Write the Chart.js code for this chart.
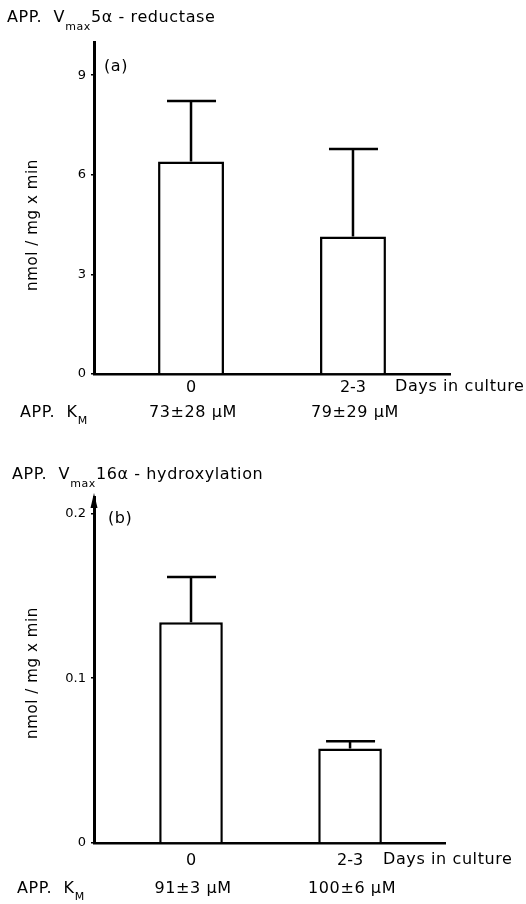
<!DOCTYPE html>
<html>
<head>
<meta charset="utf-8">
<script src="https://cdn.jsdelivr.net/npm/chart.js@4.4.1/dist/chart.umd.min.js"></script>
<style>
  html, body { margin: 0; padding: 0; background: #fff; }
  canvas { display: block; }
</style>
</head>
<body>
<canvas id="chartA" width="526" height="450"></canvas>
<canvas id="chartB" width="526" height="454"></canvas>
<script>
// ---- data ----
const categories = ['0', '2-3'];
const reductaseValues = [6.4, 4.14];
const reductaseErrors = [1.82, 2.64];
const reductaseKm = ['73\u00B128 \u03BCM', '79\u00B129 \u03BCM'];
const reductaseTicks = [0, 3, 6, 9];

const hydroxValues = [0.134, 0.0573];
const hydroxErrors = [0.0275, 0.0044];
const hydroxKm = ['91\u00B13 \u03BCM', '100\u00B16 \u03BCM'];
const hydroxTicks = [0, 0.1, 0.2];
const hydroxTickLabels = ['0', '0.1', '0.2'];

const FONT = '"DejaVu Sans", sans-serif';

function drawSubText(ctx, x, y, parts) {
  let cx = x;
  parts.forEach(p => {
    ctx.font = p.size + 'px ' + FONT;
    ctx.fillText(p.t, cx, y + (p.dy || 0));
    cx += ctx.measureText(p.t).width + (p.gap || 0);
  });
}

function makeChart(id, cfg) {
  const annot = {
    id: 'annot',
    afterDraw(chart) {
      const ctx = chart.ctx;
      const xs = chart.scales.x, ys = chart.scales.y;
      const ca = chart.chartArea;
      ctx.save();
      ctx.fillStyle = '#000';
      ctx.strokeStyle = '#000';
      // error bars
      ctx.lineWidth = 2.5;
      cfg.values.forEach((v, i) => {
        const px = xs.getPixelForValue(i + 1);
        const y0 = ys.getPixelForValue(v);
        const y1 = ys.getPixelForValue(v + cfg.errors[i]);
        ctx.beginPath();
        ctx.moveTo(px, y0);
        ctx.lineTo(px, y1);
        ctx.moveTo(px - 24, y1);
        ctx.lineTo(px + 25, y1);
        ctx.stroke();
      });
      // arrow on y axis
      if (cfg.arrow) {
        ctx.beginPath();
        ctx.moveTo(ca.left, ca.top - 4);
        ctx.lineTo(ca.left - 3.5, ca.top + 11);
        ctx.lineTo(ca.left + 3.5, ca.top + 11);
        ctx.closePath();
        ctx.fill();
      }
      ctx.textBaseline = 'middle';
      ctx.textAlign = 'left';
      try { ctx.letterSpacing = '0.6px'; } catch (e) {}
      // title with subscript
      drawSubText(ctx, cfg.titleX, cfg.titleY, [
        {t: 'APP.  V', size: 16},
        {t: 'max', size: 11, dy: 9},
        {t: cfg.titleRest, size: 16}
      ]);
      // panel label
      ctx.font = '16px ' + FONT;
      ctx.fillText(cfg.panel, cfg.panelX, cfg.panelY);
      // days in culture
      ctx.fillText('Days in culture', cfg.daysX, ca.bottom + cfg.tickDy);
      // Km row
      drawSubText(ctx, cfg.kmX, ca.bottom + cfg.kmDy, [
        {t: 'APP.  K', size: 16},
        {t: 'M', size: 11, dy: 8}
      ]);
      ctx.font = '16px ' + FONT;
      ctx.textAlign = 'center';
      cfg.km.forEach((k, i) => {
        ctx.fillText(k, xs.getPixelForValue(i + 1) + 2, ca.bottom + cfg.kmDy);
      });
      // y axis title
      ctx.save();
      ctx.translate(33, cfg.yTitleY);
      ctx.rotate(-Math.PI / 2);
      ctx.font = '15px ' + FONT;
      ctx.fillText('nmol / mg x min', 0, 0);
      ctx.restore();
      ctx.restore();
    }
  };

  return new Chart(document.getElementById(id), {
    type: 'bar',
    data: {
      datasets: [{
        data: cfg.values.map((v, i) => ({x: i + 1, y: v})),
        backgroundColor: '#fff',
        borderColor: '#000',
        borderWidth: 2.5,
        barPercentage: cfg.barPct,
        categoryPercentage: 1
      }]
    },
    options: {
      responsive: false,
      animation: false,
      devicePixelRatio: 1,
      layout: { padding: { left: 0, top: cfg.padTop, right: cfg.padRight, bottom: 0 } },
      plugins: { legend: { display: false }, tooltip: { enabled: false }, title: { display: false } },
      scales: {
        x: {
          type: 'linear',
          offset: false,
          min: cfg.xMin,
          max: cfg.xMax,
          afterBuildTicks: s => { s.ticks = categories.map((c, i) => ({value: i + 1})); },
          afterFit: s => { s.height = cfg.xHeight; },
          ticks: {
            callback: (v) => categories[Math.round(v) - 1],
            color: '#000',
            font: { family: FONT, size: 16 },
            padding: cfg.xTickPad,
            maxRotation: 0,
            autoSkip: false
          },
          grid: { display: false, drawTicks: false, offset: false },
          border: { display: true, color: '#000', width: 2.5 }
        },
        y: {
          min: 0,
          max: cfg.yMax,
          afterBuildTicks: s => { s.ticks = cfg.yTicks.map(v => ({value: v})); },
          afterFit: s => { s.width = 94; },
          ticks: {
            callback: (v, i) => cfg.yTickLabels ? cfg.yTickLabels[i] : String(v),
            color: '#000',
            font: { family: FONT, size: 13 },
            padding: 5
          },
          grid: { drawOnChartArea: false, drawTicks: true, tickLength: 3, color: '#000', lineWidth: 1.5 },
          border: { display: true, color: '#000', width: 3 }
        }
      }
    },
    plugins: [annot]
  });
}

makeChart('chartA', {
  values: reductaseValues, errors: reductaseErrors, km: reductaseKm,
  yMax: 10, yTicks: reductaseTicks,
  padTop: 42, padRight: 76, xHeight: 76,
  xMin: 0.401, xMax: 2.599, barPct: 0.407, xTickPad: 4,
  titleX: 7, titleY: 18, titleRest: '5\u03B1 - reductase',
  panel: '(a)', panelX: 104, panelY: 67,
  daysX: 395, tickDy: 13, kmX: 20, kmDy: 39,
  yTitleY: 225, arrow: false
});

makeChart('chartB', {
  values: hydroxValues, errors: hydroxErrors, km: hydroxKm,
  yMax: 0.21, yTicks: hydroxTicks, yTickLabels: hydroxTickLabels,
  padTop: 47, padRight: 81, xHeight: 61,
  xMin: 0.39, xMax: 2.597, barPct: 0.40, xTickPad: 8,
  titleX: 12, titleY: 25, titleRest: '16\u03B1 - hydroxylation',
  panel: '(b)', panelX: 108, panelY: 69,
  daysX: 383, tickDy: 17, kmX: 17, kmDy: 46,
  yTitleY: 223, arrow: true
});
</script>
</body>
</html>
